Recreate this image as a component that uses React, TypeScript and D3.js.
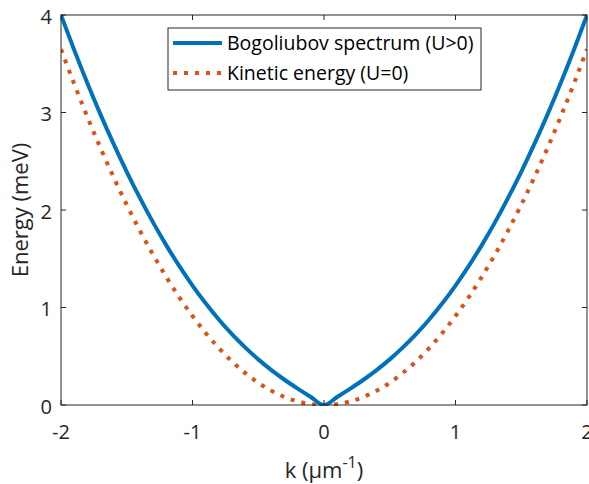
import React from "react";
import * as d3 from "d3";

const kValues = [
  -2.0, -1.9, -1.8, -1.7, -1.6, -1.5, -1.4, -1.3, -1.2, -1.1, -1.0, -0.9, -0.8, -0.7, -0.6, -0.5, -0.4, -0.3, -0.2, -0.1,
  0.0, 0.1, 0.2, 0.3, 0.4, 0.5, 0.6, 0.7, 0.8, 0.9, 1.0, 1.1, 1.2, 1.3, 1.4, 1.5, 1.6, 1.7, 1.8, 1.9, 2.0,
];
const bogoliubov = [
  4.0, 3.642, 3.303, 2.981, 2.678, 2.392, 2.124, 1.873, 1.64, 1.424, 1.225, 1.043, 0.877, 0.726, 0.591, 0.468, 0.358, 0.259, 0.168, 0.082,
  0.0, 0.082, 0.168, 0.259, 0.358, 0.468, 0.591, 0.726, 0.877, 1.043, 1.225, 1.424, 1.64, 1.873, 2.124, 2.392, 2.678, 2.981, 3.303, 3.642, 4.0,
];
const kinetic = [
  3.65, 3.294, 2.957, 2.637, 2.336, 2.053, 1.789, 1.542, 1.314, 1.104, 0.913, 0.739, 0.584, 0.447, 0.329, 0.228, 0.146, 0.082, 0.037, 0.009,
  0.0, 0.009, 0.037, 0.082, 0.146, 0.228, 0.329, 0.447, 0.584, 0.739, 0.913, 1.104, 1.314, 1.542, 1.789, 2.053, 2.336, 2.637, 2.957, 3.294, 3.65,
];
const xTicks = [-2, -1, 0, 1, 2];
const yTicks = [0, 1, 2, 3, 4];
const seriesNames = ["Bogoliubov spectrum (U>0)", "Kinetic energy (U=0)"];

const W = 589;
const H = 484;
const L = 61, R = 587, T = 15, B = 405;
const FONT = "'Open Sans', 'Noto Sans', sans-serif";
const AX = "#262626";

export default function App() {
  const x = d3.scaleLinear().domain([-2, 2]).range([L, R]);
  const y = d3.scaleLinear().domain([0, 4]).range([B, T]);
  const line = d3
    .line<number>()
    .x((_, i) => x(kValues[i]))
    .y((d) => y(d))
    .curve(d3.curveMonotoneX);

  return (
    <svg width={W} height={H} style={{ position: "absolute", left: 0, top: 0, background: "#fff" }}>
      <defs>
        <clipPath id="clip">
          <rect x={L} y={T - 1} width={R - L} height={B - T + 2} />
        </clipPath>
      </defs>
      <rect x={0} y={0} width={W} height={H} fill="#fff" />
      <g clipPath="url(#clip)">
        <path d={line(kinetic) || ""} fill="none" stroke="#D95319" strokeWidth={4} strokeDasharray="4 7" />
        <path d={line(bogoliubov) || ""} fill="none" stroke="#0072BD" strokeWidth={4} />
      </g>
      <rect x={L} y={T} width={R - L} height={B - T} fill="none" stroke={AX} strokeWidth={1} />
      {xTicks.map((t) => (
        <g key={"x" + t}>
          <line x1={x(t)} x2={x(t)} y1={B} y2={B - 5} stroke={AX} />
          <line x1={x(t)} x2={x(t)} y1={T} y2={T + 5} stroke={AX} />
          <text x={x(t)} y={439} textAnchor="middle" fontSize={20} fontFamily={FONT} fill={AX}>
            {t}
          </text>
        </g>
      ))}
      {yTicks.map((t) => (
        <g key={"y" + t}>
          <line x1={L} x2={L + 5} y1={y(t)} y2={y(t)} stroke={AX} />
          <line x1={R} x2={R - 5} y1={y(t)} y2={y(t)} stroke={AX} />
          <text x={52} y={y(t) + 8.5} textAnchor="end" fontSize={20} fontFamily={FONT} fill={AX}>
            {t}
          </text>
        </g>
      ))}
      <text x={324} y={478} textAnchor="middle" fontSize={22} fontFamily={FONT} fill={AX}>
        k (μm
        <tspan dy={-10} fontSize={16}>-1</tspan>
        <tspan dy={10}>)</tspan>
      </text>
      <text
        transform={`translate(28, ${(T + B) / 2}) rotate(-90)`}
        textAnchor="middle"
        fontSize={22}
        fontFamily={FONT}
        fill={AX}
      >
        Energy (meV)
      </text>
      <rect x={168} y={28} width={313} height={62} fill="#fff" stroke={AX} strokeWidth={1} />
      <line x1={173} x2={222} y1={43} y2={43} stroke="#0072BD" strokeWidth={4} />
      <line x1={173} x2={222} y1={73} y2={73} stroke="#D95319" strokeWidth={4} strokeDasharray="4 7" />
      <text x={227} y={50} fontSize={19.5} fontFamily={FONT} fill="#000">
        {seriesNames[0]}
      </text>
      <text x={227} y={80} fontSize={19.5} fontFamily={FONT} fill="#000">
        {seriesNames[1]}
      </text>
    </svg>
  );
}
